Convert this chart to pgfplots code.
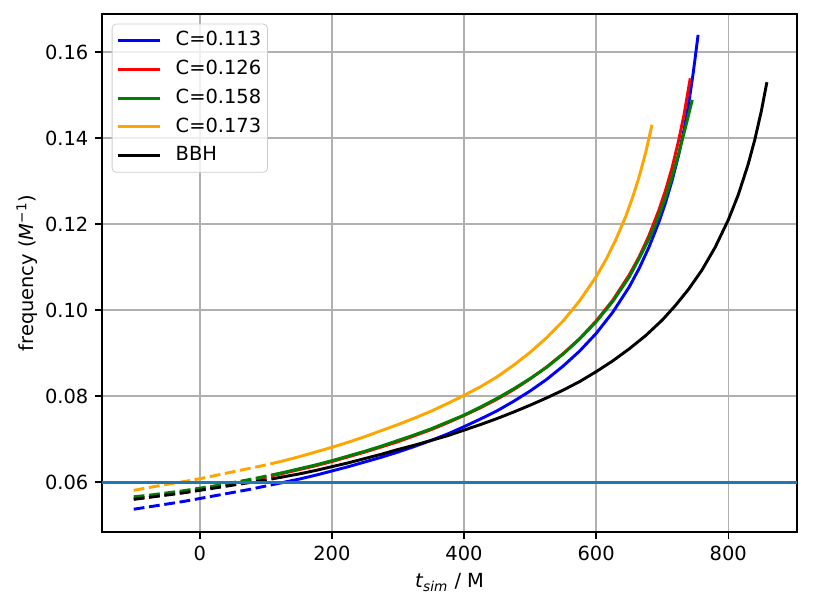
\documentclass[border=0pt]{standalone}
\usepackage{fontspec}
\setmainfont{DejaVu Sans}
\usepackage{pgfplots}
\pgfplotsset{compat=1.18}
\definecolor{mplblue}{HTML}{1F77B4}
\definecolor{cblue}{HTML}{0000FF}
\definecolor{cred}{HTML}{FF0000}
\definecolor{cgreen}{HTML}{008000}
\definecolor{corange}{HTML}{FFA500}
\definecolor{gridgray}{HTML}{B0B0B0}
\definecolor{legedge}{HTML}{CCCCCC}
\begin{document}
\begin{tikzpicture}
\path[use as bounding box] (-52.46pt,-38.57pt) rectangle (365.63pt,273.6pt);
\begin{axis}[
  at={(0,0)}, anchor=south west, scale only axis,
  width=357.4pt, height=266.4pt,
  xmin=-148, xmax=904, ymin=0.0484, ymax=0.1689,
  xtick={0,200,400,600,800},
  ytick={0.06,0.08,0.10,0.12,0.14,0.16},
  scaled y ticks=false,
  yticklabel style={/pgf/number format/.cd, fixed, fixed zerofill, precision=2},
  /pgf/number format/assume math mode=true,
  tick pos=left,
  tick align=outside,
  major tick length=3.5pt,
  tick style={black, line width=0.8pt},
  axis line style={line width=0.8pt},
  grid=major,
  major grid style={gridgray, line width=0.8pt},
  tick label style={font=\fontsize{10}{12}\selectfont},
  label style={font=\fontsize{10}{12}\selectfont},
  xlabel={\textit{t}\textsubscript{\textit{sim}} / M},
  ylabel={frequency (\textit{M}\textsuperscript{−1})},
  ylabel shift=-3pt,
  legend cell align=left,
  legend image code/.code={\draw[#1, solid, line cap=rect] (0pt,0pt) -- (20pt,0pt);},
  legend style={at={(axis description cs:0,1)}, xshift=5pt, yshift=-5pt, anchor=north west,
    draw=legedge, rounded corners=2pt, fill=white, fill opacity=0.8, text opacity=1, draw opacity=1,
    font=\fontsize{10}{12}\selectfont, inner xsep=3.2pt, inner ysep=3.75pt,
    row sep=5.16pt, column sep=0pt,
    nodes={inner sep=0pt, text height=7.5pt, text depth=2.1pt},
    /tikz/every odd column/.append style={column sep=8pt}},
  every axis plot/.append style={line width=1.5pt, line join=round},
]
% C=0.113
\addplot[cblue, dash pattern=on 5.55pt off 2.4pt, forget plot] coordinates {(-100,0.0537) (-75,0.0543) (-50,0.0549) (-25,0.0555) (0,0.0562) (25,0.0569) (50,0.0576) (75,0.0583) (100,0.0591) (125,0.0599)};
\addplot[cblue, line cap=rect] coordinates {(125,0.0599) (150,0.0607) (175,0.0616) (200,0.0626) (225,0.0636) (250,0.0647) (275,0.0658) (300,0.0670) (325,0.0683) (350,0.0697) (375,0.0712) (400,0.0729) (425,0.0747) (450,0.0766) (475,0.0788) (500,0.0812) (525,0.0839) (550,0.0870) (575,0.0905) (600,0.0946) (625,0.0995) (650,0.1054) (665,0.1097) (680,0.1147) (695,0.1205) (705,0.1250) (715,0.1302) (725,0.1362) (733,0.1420) (740,0.1480) (747,0.1553) (754,0.1637)};
\addlegendentry{C=0.113}
% C=0.126
\addplot[cred, dash pattern=on 5.55pt off 2.4pt, forget plot] coordinates {(-100,0.0561) (-75,0.0566) (-50,0.0571) (-25,0.0577) (0,0.0583) (25,0.0590) (50,0.0597) (75,0.0604) (100,0.0612) (125,0.0620)};
\addplot[cred, line cap=rect] coordinates {(125,0.0620) (150,0.0629) (175,0.0638) (200,0.0648) (225,0.0659) (250,0.0670) (275,0.0682) (300,0.0694) (325,0.0708) (350,0.0722) (375,0.0738) (400,0.0755) (425,0.0773) (450,0.0793) (475,0.0815) (500,0.0840) (525,0.0868) (550,0.0899) (575,0.0934) (600,0.0975) (625,0.1023) (650,0.1082) (665,0.1124) (680,0.1174) (695,0.1233) (705,0.1279) (715,0.1332) (725,0.1396) (733,0.1455) (742,0.1536)};
\addlegendentry{C=0.126}
% C=0.158
\addplot[cgreen, dash pattern=on 5.55pt off 2.4pt, forget plot] coordinates {(-100,0.0566) (-75,0.0570) (-50,0.0575) (-25,0.0580) (0,0.0586) (25,0.0592) (50,0.0599) (75,0.0606) (100,0.0614) (125,0.0622)};
\addplot[cgreen, line cap=rect] coordinates {(125,0.0622) (150,0.0631) (175,0.0640) (200,0.0650) (225,0.0661) (250,0.0672) (275,0.0684) (300,0.0697) (325,0.0710) (350,0.0724) (375,0.0740) (400,0.0756) (425,0.0775) (450,0.0795) (475,0.0817) (500,0.0841) (525,0.0867) (550,0.0898) (575,0.0933) (600,0.0973) (625,0.1020) (650,0.1077) (665,0.1120) (680,0.1166) (690,0.1200) (705,0.1262) (715,0.1310) (725,0.1365) (735,0.1424) (745,0.1486)};
\addlegendentry{C=0.158}
% C=0.173
\addplot[corange, dash pattern=on 5.55pt off 2.4pt, forget plot] coordinates {(-100,0.0581) (-75,0.0588) (-50,0.0595) (-25,0.0601) (0,0.0608) (25,0.0616) (50,0.0624) (75,0.0632) (100,0.0640) (125,0.0649)};
\addplot[corange, line cap=rect] coordinates {(125,0.0649) (150,0.0659) (175,0.0670) (200,0.0681) (225,0.0693) (250,0.0706) (275,0.0720) (300,0.0734) (325,0.0749) (350,0.0765) (375,0.0783) (400,0.0802) (425,0.0822) (450,0.0845) (475,0.0872) (500,0.0902) (525,0.0936) (550,0.0975) (575,0.1022) (600,0.1078) (615,0.1118) (630,0.1165) (645,0.1219) (655,0.1262) (665,0.1310) (675,0.1367) (684,0.1428)};
\addlegendentry{C=0.173}
% BBH
\addplot[black, dash pattern=on 5.55pt off 2.4pt, forget plot] coordinates {(-100,0.0560) (-75,0.0565) (-50,0.0570) (-25,0.0575) (0,0.0581) (25,0.0587) (50,0.0593) (75,0.0599) (100,0.0605) (125,0.0612)};
\addplot[black, line cap=rect] coordinates {(125,0.0612) (150,0.0619) (175,0.0627) (200,0.0636) (225,0.0645) (250,0.0655) (275,0.0665) (300,0.0676) (325,0.0686) (350,0.0697) (375,0.0708) (400,0.0721) (425,0.0734) (450,0.0748) (475,0.0763) (500,0.0779) (525,0.0796) (550,0.0814) (575,0.0834) (600,0.0857) (625,0.0882) (650,0.0910) (675,0.0941) (700,0.0977) (720,0.1011) (740,0.1049) (760,0.1093) (780,0.1146) (800,0.1210) (815,0.1268) (830,0.1339) (840,0.1396) (850,0.1463) (858,0.1527)};
\addlegendentry{BBH}
% reference line
\addplot[mplblue, forget plot] coordinates {(-148,0.06) (904,0.06)};
\end{axis}
\end{tikzpicture}
\end{document}
